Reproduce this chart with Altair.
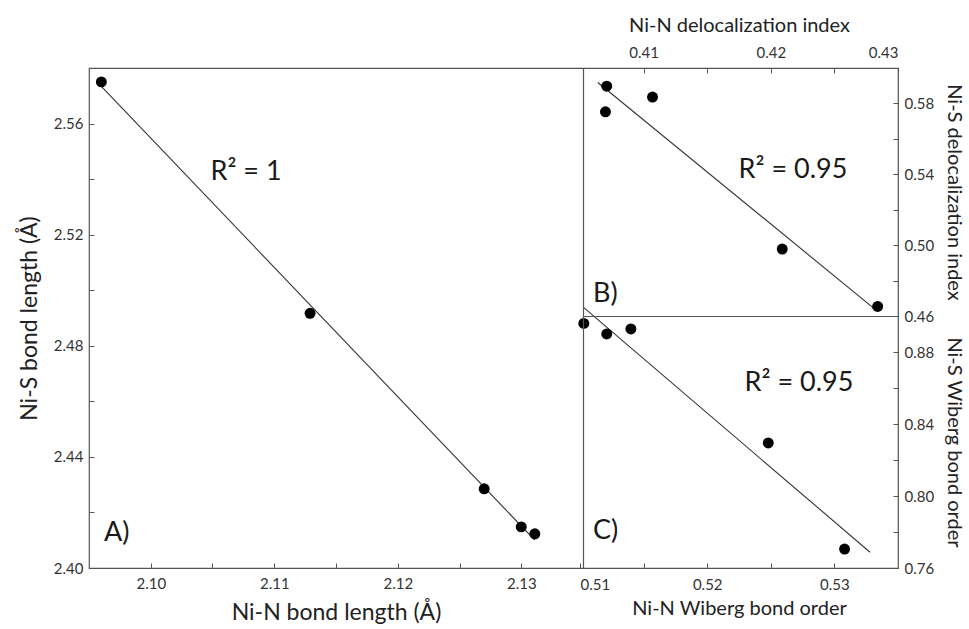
import altair as alt
import pandas as pd

# ---- data ----
# Panel A: Ni-N vs Ni-S bond length (Å)
a_x = [2.0960, 2.1129, 2.1270, 2.1300, 2.1311]
a_y = [2.5750, 2.4917, 2.4285, 2.4148, 2.4123]
# Panel B: delocalization indices
b_x = [0.4071, 0.4070, 0.4107, 0.4209, 0.4284]
b_y = [0.5897, 0.5753, 0.5836, 0.4978, 0.4654]
# Panel C: Wiberg bond orders
c_x = [0.5103, 0.5121, 0.5140, 0.5248, 0.5308]
c_y = [0.8959, 0.8900, 0.8928, 0.8295, 0.7705]

# tick values (major + minor)
a_xticks = [2.100, 2.105, 2.110, 2.115, 2.120, 2.125, 2.130]
a_yticks = [2.40, 2.42, 2.44, 2.46, 2.48, 2.50, 2.52, 2.54, 2.56]
b_xticks = [0.410, 0.415, 0.420, 0.425, 0.430]
b_yticks = [0.46, 0.48, 0.50, 0.52, 0.54, 0.56, 0.58]
c_xticks = [0.510, 0.515, 0.520, 0.525, 0.530]
c_yticks = [0.76, 0.78, 0.80, 0.82, 0.84, 0.86, 0.88]

annotations = ["R\u00b2 = 1", "R\u00b2 = 0.95", "R\u00b2 = 0.95", "A)", "B)", "C)"]

dfA = pd.DataFrame({"x": a_x, "y": a_y})
dfB = pd.DataFrame({"x": b_x, "y": b_y})
dfC = pd.DataFrame({"x": c_x, "y": c_y})
one = pd.DataFrame({"k": [0]})

W, H = 809, 500
SX, SY = 494, 248
FONT = "Lato"
LBL = "#333333"
TTL = "#222222"

def axis(orient, values, expr, title, tsize=21, tpad=10, lpad=6, flush=False):
    return alt.Axis(
        orient=orient, values=values, labelExpr=expr, title=title,
        titleFontSize=tsize, titlePadding=tpad, labelPadding=lpad,
        titleFont=FONT, labelFont=FONT, labelFontSize=15, labelColor=LBL,
        titleColor=TTL, titleFontWeight="normal", offset=-5, tickSize=5,
        tickColor="#555555", domain=False, grid=False, labelOverlap=False,
        labelFlush=flush,
    )

ex_x3 = "round(datum.value*1000) % 10 == 0 ? format(datum.value, '.2f') : ''"
ex_y0 = "round(datum.value*100) % 4 == 0 ? format(datum.value, '.2f') : ''"
ex_y2 = "round(datum.value*100) % 4 == 2 ? format(datum.value, '.2f') : ''"

scA_x = alt.Scale(domain=[2.095, 2.135], range=[0, SX], nice=False, zero=False)
scA_y = alt.Scale(domain=[2.40, 2.58], range=[H, 0], nice=False, zero=False)
scB_x = alt.Scale(domain=[0.405, 0.43], range=[SX - 3, W], nice=False, zero=False)
scB_y = alt.Scale(domain=[0.46, 0.60], range=[SY, 0], nice=False, zero=False)
scC_x = alt.Scale(domain=[0.51, 0.535], range=[SX - 3, W], nice=False, zero=False)
scC_y = alt.Scale(domain=[0.76, 0.90], range=[H, SY], nice=False, zero=False)

pt = dict(size=120, color="black", opacity=1, filled=True)
ln = dict(color="#333333", strokeWidth=1.1)

A_pts = alt.Chart(dfA).mark_point(**pt).encode(
    x=alt.X("x:Q", scale=scA_x, axis=axis("bottom", a_xticks, ex_x3, "Ni-N bond length (Å)", tsize=23, tpad=10, lpad=8)),
    y=alt.Y("y:Q", scale=scA_y, axis=axis("left", a_yticks, ex_y0, "Ni-S bond length (Å)", tsize=23, tpad=12, lpad=6)),
)
A_ln = alt.Chart(dfA).transform_regression("x", "y").mark_line(**ln).encode(
    x=alt.X("x:Q", scale=scA_x, axis=None),
    y=alt.Y("y:Q", scale=scA_y, axis=None),
)
B_pts = alt.Chart(dfB).mark_point(**pt).encode(
    x=alt.X("x:Q", scale=scB_x, axis=axis("top", b_xticks, ex_x3, "Ni-N delocalization index", tsize=20, tpad=10, lpad=8, flush=True)),
    y=alt.Y("y:Q", scale=scB_y, axis=axis("right", b_yticks, ex_y2, "Ni-S delocalization index", tsize=20, tpad=10, lpad=6)),
)
B_ln = alt.Chart(dfB).transform_regression("x", "y", extent=[0.4064, 0.4282]).mark_line(**ln).encode(
    x=alt.X("x:Q", scale=scB_x, axis=None),
    y=alt.Y("y:Q", scale=scB_y, axis=None),
)
C_pts = alt.Chart(dfC).mark_point(**pt).encode(
    x=alt.X("x:Q", scale=scC_x, axis=axis("bottom", c_xticks, ex_x3, "Ni-N Wiberg bond order", tsize=20, tpad=6, lpad=9, flush=True)),
    y=alt.Y("y:Q", scale=scC_y, axis=axis("right", c_yticks, ex_y0, "Ni-S Wiberg bond order", tsize=20, tpad=10, lpad=6)),
)
C_ln = alt.Chart(dfC).transform_regression("x", "y", extent=[0.5103, 0.5328]).mark_line(clip=True, **ln).encode(
    x=alt.X("x:Q", scale=scC_x, axis=None),
    y=alt.Y("y:Q", scale=scC_y, axis=None),
)

frame = dict(color="#555555", strokeWidth=1.2)
vsep = alt.Chart(one).mark_rule(**frame).encode(
    x=alt.value(SX + 0.5), y=alt.value(0), y2=alt.value(H))
hsep = alt.Chart(one).mark_rule(**frame).encode(
    x=alt.value(SX), x2=alt.value(W), y=alt.value(SY + 0.5))

def txt(s, x, y, align="center"):
    return alt.Chart(one).mark_text(
        text=s, font=FONT, fontSize=27, fontWeight="normal", color="#1a1a1a",
        align=align, baseline="middle"
    ).encode(x=alt.value(x), y=alt.value(y))

texts = [
    txt(annotations[0], 157, 104),
    txt(annotations[1], 704, 102),
    txt(annotations[2], 710, 315),
    txt(annotations[3], 15, 465, "left"),
    txt(annotations[4], 504, 226, "left"),
    txt(annotations[5], 504, 463, "left"),
]

chart = alt.layer(
    A_ln, A_pts, B_ln, B_pts, C_ln, C_pts, vsep, hsep, *texts
).resolve_scale(x="independent", y="independent").properties(
    width=W, height=H,
    autosize=alt.AutoSizeParams(type="none"),
    padding={"left": 89, "top": 68, "right": 969 - 89 - W, "bottom": 629 - 68 - H},
    background="white",
).configure_view(stroke="#555555", strokeWidth=1.2)

chart.save("out.html", embed_options={"renderer": "svg", "actions": False})
